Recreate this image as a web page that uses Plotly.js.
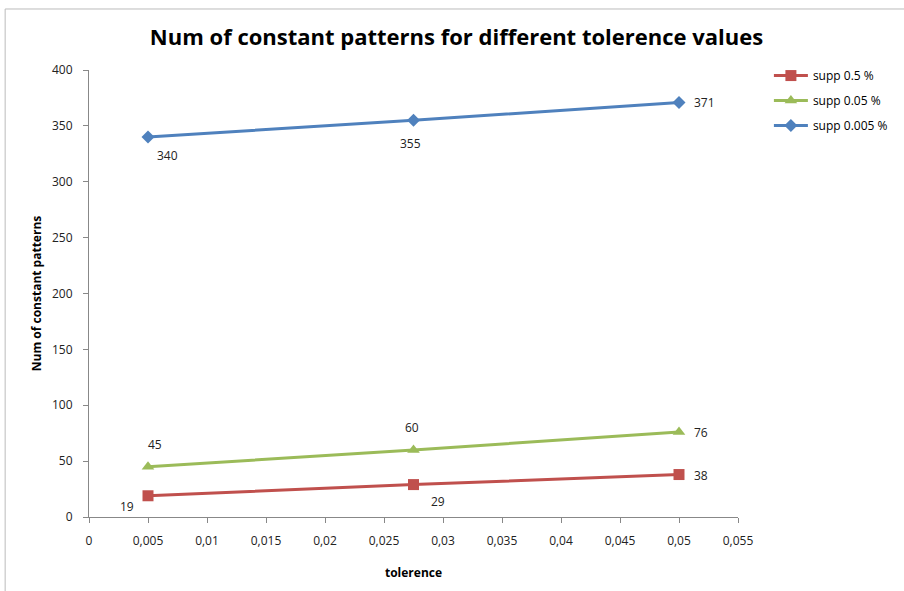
<!DOCTYPE html>
<html><head><meta charset="utf-8">
<script src="https://cdn.plot.ly/plotly-3.0.1.min.js"></script>
<style>html,body{margin:0;padding:0;background:#fff}#chart{width:904px;height:591px}</style>
</head><body><div id="chart"></div>
<script>
const tolerance = [0.005, 0.0275, 0.05];
const supp05 = [19, 29, 38];
const supp005 = [45, 60, 76];
const supp0005 = [340, 355, 371];
const seriesNames = ["supp 0.5 %", "supp 0.05 %", "supp 0.005 %"];
const xTickVals = [0,0.005,0.01,0.015,0.02,0.025,0.03,0.035,0.04,0.045,0.05,0.055];
const xTickText = ["0","0,005","0,01","0,015","0,02","0,025","0,03","0,035","0,04","0,045","0,05","0,055"];

// label pixel offsets (style only)
const labelShift = [
  [[-21, -11], [24, -17], [22, -1]],
  [[7, 22], [-2, 22], [22, 0]],
  [[19, -18], [-3, -23], [25, 0]]
];

const FAM = "Open Sans, Lato, sans-serif";
const font = {family: FAM, size: 12, color: "#222"};
const series = [supp05, supp005, supp0005];
const colors = ["#C0504D", "#9BBB59", "#4F81BD"];
const symbols = ["square", "triangle-up", "diamond"];
const sizes = [11, 11, 10];

const data = series.map((y, i) => ({
  x: tolerance, y: y, name: seriesNames[i], type: "scatter", mode: "lines+markers",
  legendgroup: "g" + i,
  line: {color: colors[i], width: 3}, marker: {color: colors[i], symbol: symbols[i], size: sizes[i]},
  cliponaxis: false
}));

const annotations = [];
series.forEach((y, i) => y.forEach((v, j) => {
  annotations.push({x: tolerance[j], y: v, xref: "x", yref: "y", text: String(v), showarrow: false,
    xshift: labelShift[i][j][0], yshift: labelShift[i][j][1], font: font});
}));

const layout = {
  width: 904, height: 591,
  margin: {l: 89, r: 165, t: 70, b: 74},
  paper_bgcolor: "#fff", plot_bgcolor: "#fff",
  font: font,
  title: {text: "<b>Num of constant patterns for different tolerence values</b>", x: 0.505, xanchor: "center",
    y: 0.937, yanchor: "middle", font: {family: FAM, size: 22, color: "#000"}},
  xaxis: {range: [0, 0.055], tickvals: xTickVals, ticktext: xTickText, showgrid: false, zeroline: false,
    showline: true, linecolor: "#888", ticks: "outside", ticklen: 5, tickcolor: "#888",
    tickfont: font, ticklabelstandoff: 8,
    title: {text: "<b>tolerence</b>", font: {family: FAM, size: 12, color: "#000"}, standoff: 20}},
  yaxis: {range: [0, 400], dtick: 50, showgrid: false, zeroline: false, showline: true, linecolor: "#888",
    ticks: "outside", ticklen: 5, tickcolor: "#888", tickfont: font, ticklabelstandoff: 8,
    title: {text: "<b>Num of constant patterns</b>", font: {family: FAM, size: 12, color: "#000"}, standoff: 7}},
  legend: {x: 1.046, y: 1.02, xanchor: "left", yanchor: "top", font: {family: FAM, size: 12, color: "#000"},
    tracegroupgap: 6, itemwidth: 34},
  showlegend: true,
  annotations: annotations,
  shapes: [{type: "rect", xref: "paper", yref: "paper", x0: -0.1292, x1: 1.4, y0: -0.3, y1: 1.1365,
    line: {color: "#bbb", width: 1}}]
};
Plotly.newPlot("chart", data, layout, {displayModeBar: false});
</script></body></html>
